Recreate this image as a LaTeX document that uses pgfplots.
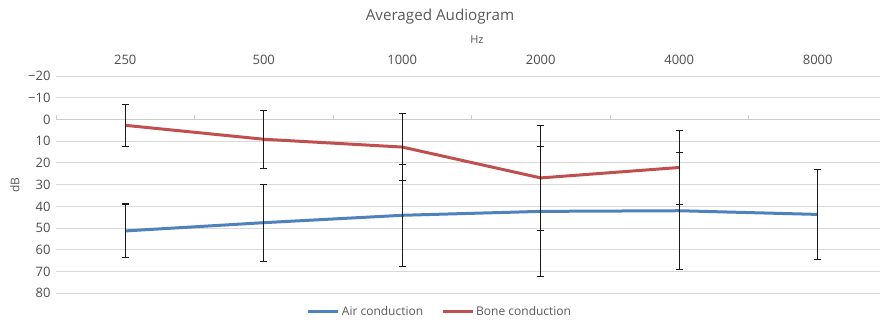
\documentclass[border=0pt]{standalone}
\usepackage{pgfplots}
\pgfplotsset{compat=1.18}
\usepackage{fontspec}
\setmainfont{Open Sans}
\definecolor{airblue}{HTML}{4F81BD}
\definecolor{bonered}{HTML}{C0504D}
\definecolor{gridgray}{HTML}{D9D9D9}
\definecolor{axgray}{HTML}{CCCCCC}
\definecolor{txtgray}{HTML}{595959}
\definecolor{ticktxt}{HTML}{4D4D4D}
\definecolor{errblack}{HTML}{1A1A1A}
\begin{document}
\begin{tikzpicture}[x=1pt,y=1pt]
\path[use as bounding box] (0,0) rectangle (880,322);
\begin{axis}[
  at={(56pt,28.7pt)}, anchor=south west,
  width=824pt, height=217.3pt, scale only axis,
  xmin=-0.5, xmax=5.45,
  ymin=-20, ymax=80, y dir=reverse,
  xtick={0,1,2,3,4,5}, xticklabels={250,500,1000,2000,4000,8000},
  xticklabel pos=upper,
  ytick={-20,-10,0,10,20,30,40,50,60,70,80},
  yticklabels={−20,−10,0,10,20,30,40,50,60,70,80},
  ymajorgrids, grid style={gridgray, line width=0.9pt},
  axis line style={draw=none},
  major tick length=0pt,
  tick label style={font=\fontsize{13}{15}\selectfont, text=ticktxt},
  xticklabel shift=7.5pt,
  yticklabel shift=2pt,
  clip=false,
  legend style={at={(0.466,-0.086)}, anchor=center, draw=none, fill=none,
    legend columns=2, font=\fontsize{12}{14}\selectfont, text=txtgray,
    /tikz/every even column/.append style={column sep=16pt}},
  legend image code/.code={\draw[#1] (0pt,0pt) -- (30pt,0pt);},
]
\draw[axgray, line width=0.9pt] (axis cs:-0.5,0) -- (axis cs:5.45,0);
\pgfplotsinvokeforeach{-0.5,0.5,1.5,2.5,3.5,4.5}{
  \draw[axgray, line width=0.9pt] (axis cs:#1,0) -- ++(0pt,4pt);
}
\addplot[airblue, line width=3pt, error bars/.cd, y dir=both, y explicit,
  error bar style={errblack, line width=1.2pt},
  error mark options={rotate=90, errblack, mark size=3.4pt, line width=1.2pt}]
  table[x=x, y=y, y error=e] {
x y e
0 51.3 12.4
1 47.5 17.7
2 44.1 23.5
3 42.3 30.0
4 42.0 26.9
5 43.7 20.8
};
\addlegendentry{Air conduction}
\addplot[bonered, line width=3pt, error bars/.cd, y dir=both, y explicit,
  error bar style={errblack, line width=1.2pt},
  error mark options={rotate=90, errblack, mark size=3.4pt, line width=1.2pt}]
  table[x=x, y=y, y error=e] {
x y e
0 2.7 9.6
1 9.1 13.4
2 12.7 15.4
3 26.9 24.3
4 22.1 17.2
};
\addlegendentry{Bone conduction}
\end{axis}
\node[font=\fontsize{15.2}{17}\selectfont, text=txtgray] at (440,305) {Averaged Audiogram};
\node[font=\fontsize{11}{12}\selectfont, text=txtgray] at (477,282) {Hz};
\node[font=\fontsize{12}{13}\selectfont, text=txtgray, rotate=90] at (15,137) {dB};
\end{tikzpicture}
\end{document}
